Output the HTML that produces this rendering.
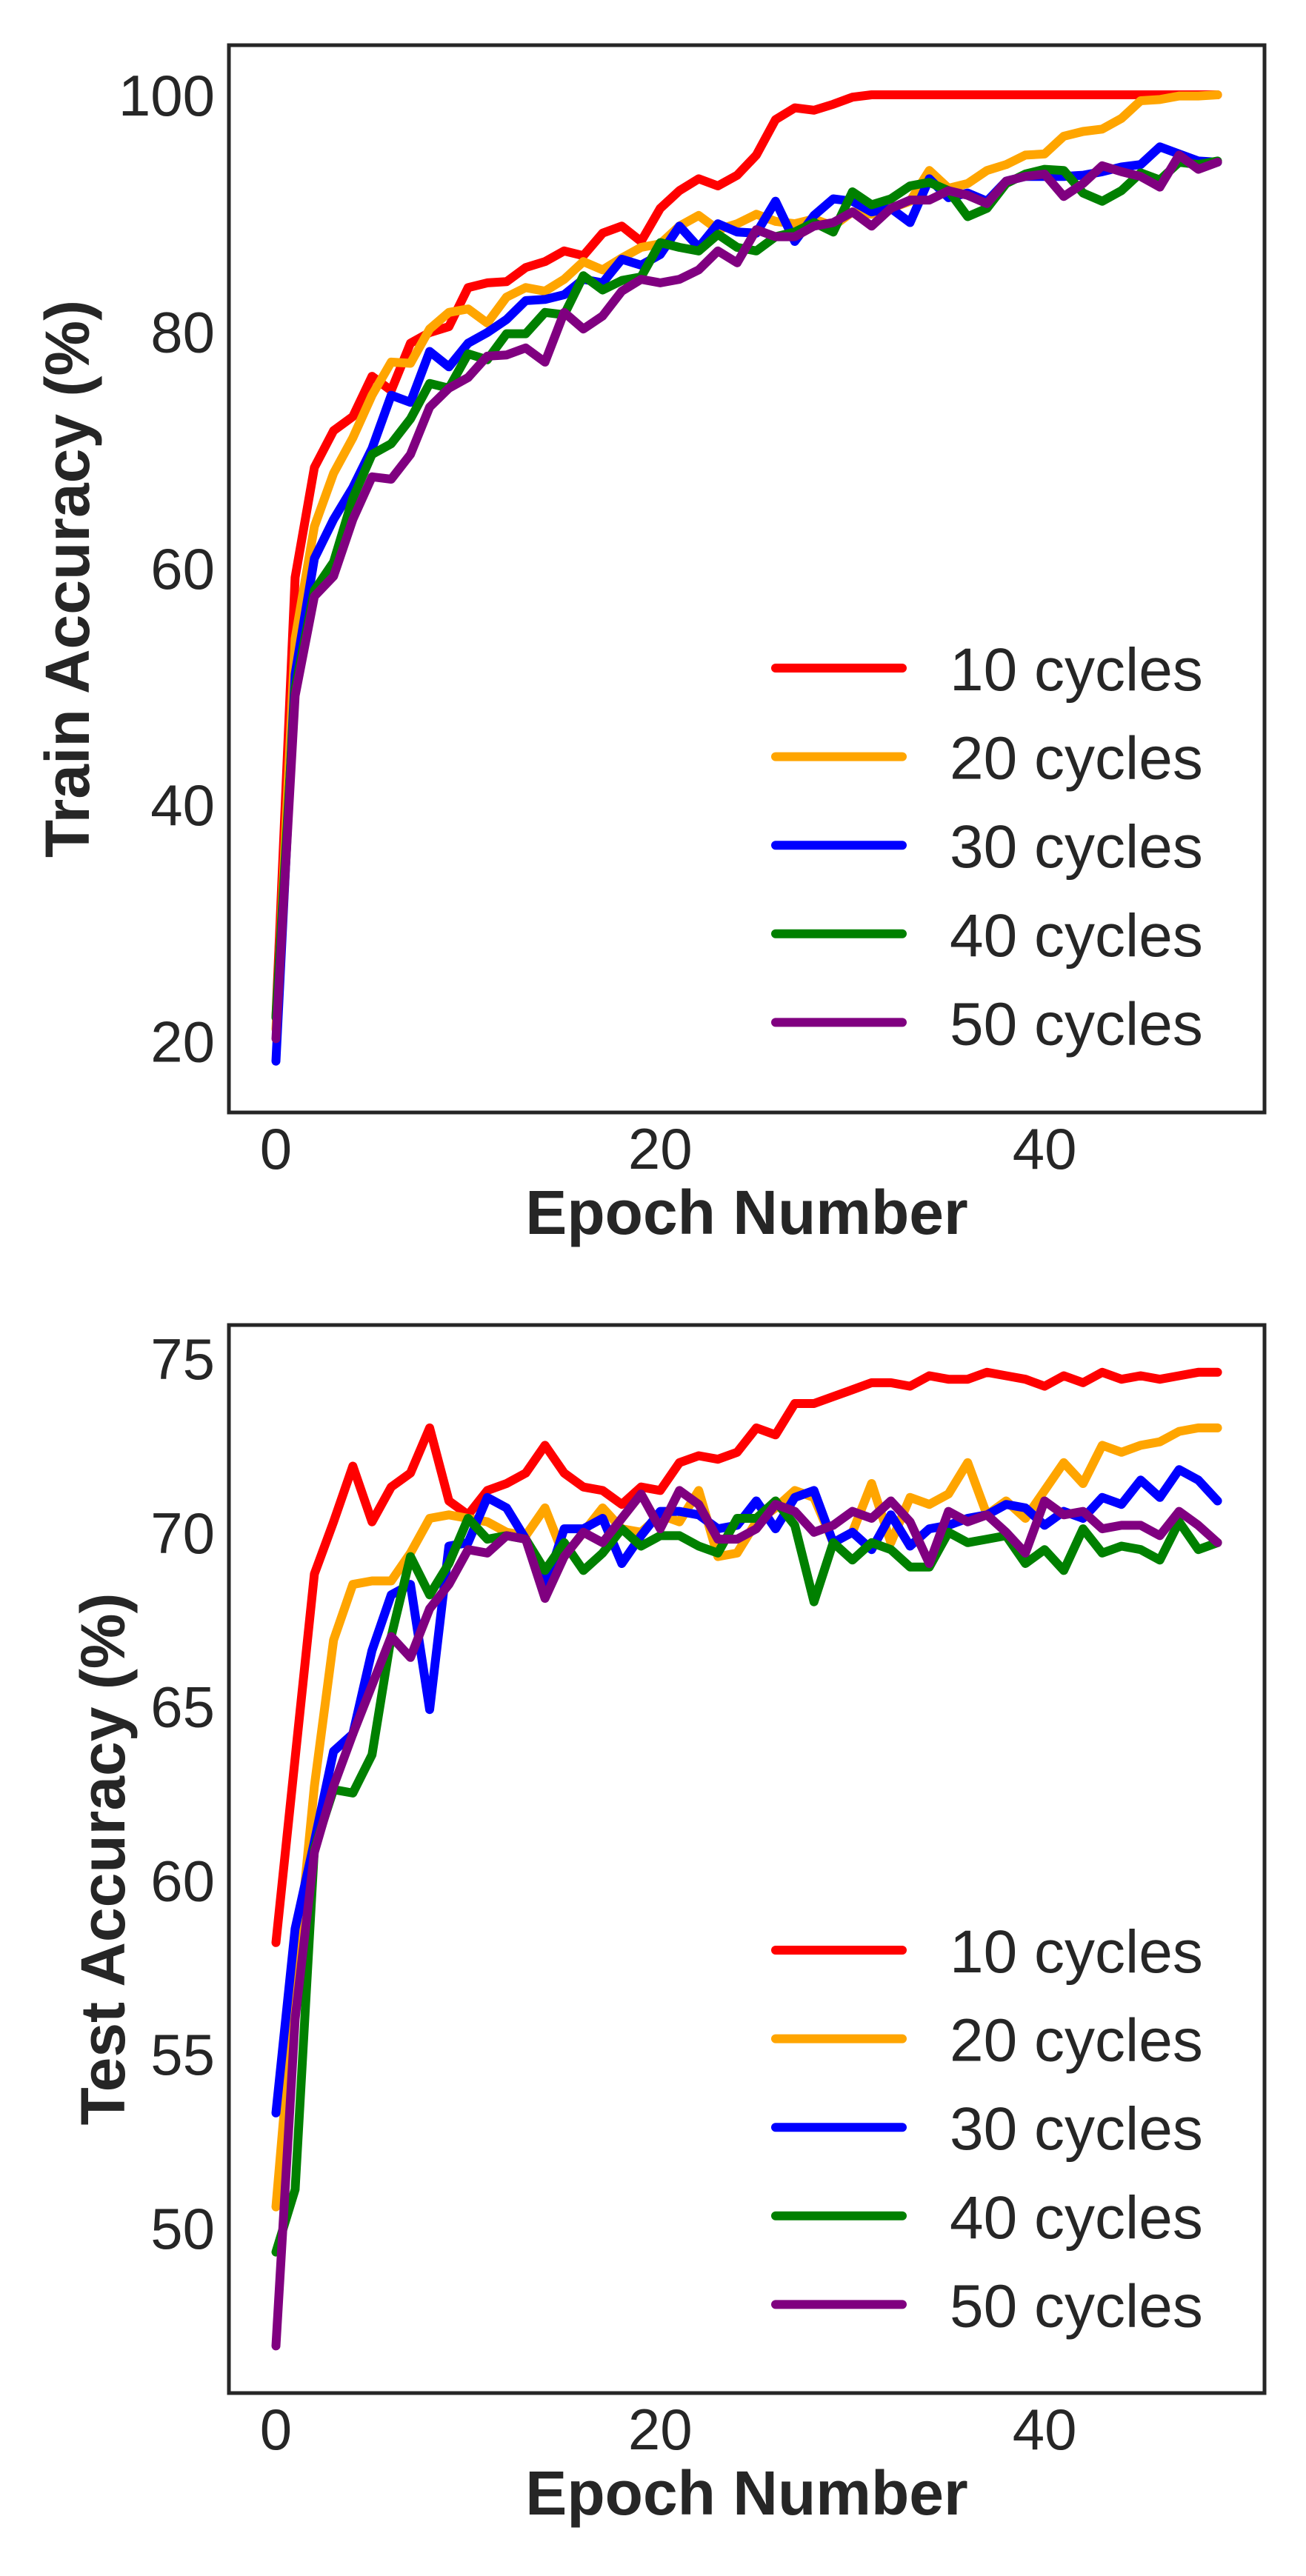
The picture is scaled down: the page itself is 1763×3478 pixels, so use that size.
<!DOCTYPE html>
<html><head><meta charset="utf-8"><style>
html,body{margin:0;padding:0;background:#fff;}
svg{display:block;}
text{font-family:"Liberation Sans",sans-serif;fill:#262626;}
</style></head><body>
<svg id="fig" width="1763" height="3478" viewBox="0 0 1763 3478" xmlns="http://www.w3.org/2000/svg"></svg>
<script>
const epochs = Array.from({length:50},(_,i)=>i);
const seriesNames = ["10 cycles","20 cycles","30 cycles","40 cycles","50 cycles"];
const seriesColors = ["#ff0000","#ffa500","#0000ff","#008000","#800080"];
const xTicks = [0,20,40];
const trainYTicks = [20,40,60,80,100];
const testYTicks = [50,55,60,65,70,75];

const train10 = [22,59.2,68.5,71.6,72.8,76.2,75.0,79.0,79.9,80.4,83.7,84.1,84.2,85.4,85.9,86.8,86.4,88.3,88.9,87.6,90.4,91.9,92.9,92.3,93.2,94.9,97.9,98.9,98.7,99.2,99.8,100,100,100,100,100,100,100,100,100,100,100,100,100,100,100,100,100,100,100];
const train20 = [21,54.0,63.5,68.0,71.0,74.6,77.4,77.3,80.2,81.6,81.9,80.7,82.9,83.7,83.4,84.4,85.9,85.2,86.2,87.1,87.4,88.9,89.8,88.6,89.1,89.9,89.3,89.1,89.5,88.9,90.1,89.9,90.4,91.0,93.6,92.1,92.5,93.6,94.1,94.9,95.0,96.5,96.9,97.1,98.0,99.5,99.6,99.9,99.9,100];
const train30 = [18.3,51.0,60.8,64.1,66.8,70.1,74.6,74.0,78.3,77.0,79.0,79.9,81.0,82.6,82.7,83.1,84.4,84.1,86.1,85.6,86.5,88.9,87.1,89.1,88.4,88.3,91.0,87.6,89.8,91.2,91.0,90.1,90.4,89.2,92.9,91.3,91.7,91.0,92.7,93.1,93.1,93.1,93.2,93.5,93.9,94.1,95.6,95.0,94.4,94.3];
const train40 = [22.0,49.8,58.1,60.5,65.9,69.6,70.5,72.6,75.6,75.2,78.1,77.6,79.8,79.8,81.6,81.4,84.7,83.5,84.3,84.6,87.5,87.1,86.8,88.2,87.1,86.8,88.0,88.4,89.2,88.4,91.8,90.7,91.2,92.3,92.6,91.9,89.7,90.4,92.5,93.3,93.7,93.6,91.7,91.0,91.9,93.4,92.8,94.3,94.1,94.4];
const train50 = [20.2,49.2,57.6,59.3,64.1,67.7,67.5,69.6,73.6,75.2,76.1,77.9,78.0,78.6,77.4,81.6,80.2,81.3,83.4,84.4,84.1,84.4,85.2,86.8,85.8,88.6,88.0,88.0,88.9,89.2,90.1,88.9,90.4,91.1,91.1,91.9,91.5,90.8,92.7,93.1,93.3,91.4,92.5,94.0,93.5,93.1,92.2,94.9,93.7,94.3];

const test10 = [58.2,63.5,68.8,70.3,71.9,70.3,71.3,71.7,73.0,70.9,70.5,71.2,71.4,71.7,72.5,71.7,71.3,71.2,70.8,71.3,71.2,72.0,72.2,72.1,72.3,73.0,72.8,73.7,73.7,73.9,74.1,74.3,74.3,74.2,74.5,74.4,74.4,74.6,74.5,74.4,74.2,74.5,74.3,74.6,74.4,74.5,74.4,74.5,74.6,74.6];
const test20 = [50.6,57.0,62.7,66.9,68.5,68.6,68.6,69.4,70.4,70.5,70.4,70.3,70.0,69.9,70.7,69.3,70.0,70.7,70.1,70.0,70.5,70.3,71.2,69.3,69.4,70.3,70.7,71.2,71.0,69.7,70.0,71.4,69.7,71.0,70.8,71.1,72.0,70.5,70.9,70.4,71.2,72.0,71.4,72.5,72.3,72.5,72.6,72.9,73.0,73.0];
const test30 = [53.3,58.6,61.1,63.7,64.2,66.6,68.2,68.5,64.9,69.6,69.7,71.0,70.7,69.8,68.4,70.1,70.1,70.4,69.1,69.9,70.6,70.6,70.5,70.1,70.2,70.9,70.1,71.0,71.2,69.7,70.0,69.5,70.5,69.6,70.1,70.2,70.4,70.5,70.8,70.7,70.2,70.6,70.4,71.0,70.8,71.5,71.0,71.8,71.5,70.9];
const test40 = [49.3,51.1,60.9,62.6,62.5,63.6,67.0,69.3,68.2,69.1,70.4,69.8,69.9,69.8,68.9,69.7,68.9,69.4,70.1,69.6,69.9,69.9,69.6,69.4,70.4,70.4,70.9,70.2,68.0,69.7,69.2,69.7,69.5,69.0,69.0,70.0,69.7,69.8,69.9,69.1,69.5,68.9,70.1,69.4,69.6,69.5,69.2,70.3,69.5,69.7];
const test50 = [46.6,56.0,60.8,62.7,64.2,65.6,67.0,66.4,67.8,68.5,69.5,69.4,69.9,69.8,68.1,69.3,70.0,69.7,70.4,71.1,70.1,71.2,70.8,69.8,69.8,70.1,70.8,70.6,70.0,70.2,70.6,70.4,70.9,70.3,69.1,70.6,70.3,70.5,70.0,69.4,70.9,70.5,70.6,70.1,70.2,70.2,69.9,70.6,70.2,69.7];

const NS="http://www.w3.org/2000/svg";
const svg=document.getElementById('fig');
function mk(tag,attrs,parent){const e=document.createElementNS(NS,tag);for(const k in attrs)e.setAttribute(k,attrs[k]);(parent||svg).appendChild(e);return e;}

function drawPanel(p){
  const g=mk('g',{});
  
  
  const xS=v=>p.x0+v*p.xu;
  const yS=v=>p.yRef-(v-p.vRef)*p.yu;
  p.series.forEach((arr,si)=>{
    const d=arr.map((v,i)=>(i?'L':'M')+xS(epochs[i]).toFixed(1)+' '+yS(v).toFixed(1)).join(' ');
    const path=mk('path',{d:d,fill:'none',stroke:seriesColors[si],'stroke-width':12,'stroke-linejoin':'round','stroke-linecap':'round'},g);
    
    
  });
  const fr=mk('rect',{x:p.L,y:p.T,width:p.R-p.L,height:p.B-p.T,fill:'none',stroke:'#262626','stroke-width':5},g);
  
  
  xTicks.forEach(t=>{
    const tx=mk('text',{x:xS(t),y:p.B+76,'font-size':78,'text-anchor':'middle'},g);
    tx.textContent=t;
    
    
  });
  p.yTicks.forEach(t=>{
    const tx=mk('text',{x:290,y:yS(t)+28,'font-size':78,'text-anchor':'end'},g);
    tx.textContent=t;
    
    
  });
  const xl=mk('text',{x:(p.L+p.R)/2,y:p.B+164,'font-size':84,'font-weight':'bold','text-anchor':'middle'},g);
  xl.textContent='Epoch Number';
  
  
  const cy=(p.T+p.B)/2;
  const yl=mk('text',{x:0,y:0,'font-size':84,'font-weight':'bold','text-anchor':'middle',transform:`translate(${p.ylx},${cy}) rotate(-90)`},g);
  yl.textContent=p.ylabel;
  
  
  seriesNames.forEach((n,i)=>{
    const ly=p.legY+i*119.6;
    const ln=mk('line',{x1:1047,x2:1218,y1:ly,y2:ly,stroke:seriesColors[i],'stroke-width':12,'stroke-linecap':'round'},g);
    
    
    const lt=mk('text',{x:1282,y:ly+30,'font-size':82},g);
    lt.textContent=n;
    
    
  });
}

drawPanel({name:'train-accuracy-chart',L:309,R:1707,T:61,B:1502,x0:372.5,xu:25.94,vRef:100,yRef:128,yu:15.97,
  yTicks:trainYTicks,series:[train10,train20,train30,train40,train50],ylabel:'Train Accuracy (%)',ylx:120,legY:902});
drawPanel({name:'test-accuracy-chart',L:309,R:1707,T:1789,B:3231,x0:372.5,xu:25.94,vRef:75,yRef:1834,yu:46.95,
  yTicks:testYTicks,series:[test10,test20,test30,test40,test50],ylabel:'Test Accuracy (%)',ylx:168,legY:2633});
</script>
</body></html>
